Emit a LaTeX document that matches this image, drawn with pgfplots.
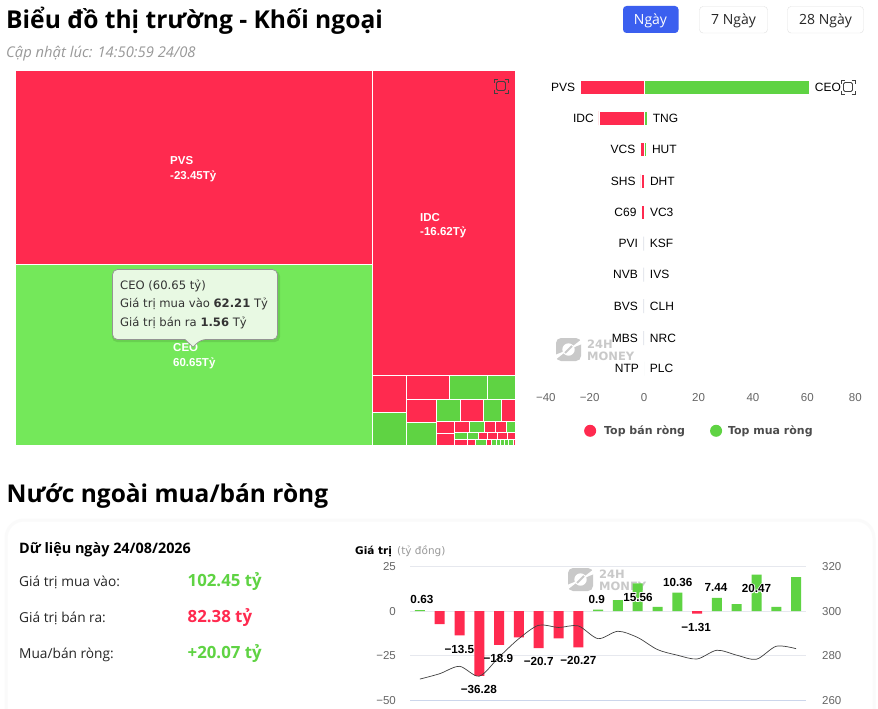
\documentclass[border=0pt]{standalone}
\usepackage{fontspec}
\usepackage{pgfplots}
\usepackage{pgfplotstable}
\pgfplotsset{compat=1.18}
\setmainfont{Liberation Sans}
\newfontfamily\titlef{Open Sans}
\newfontfamily\djv{DejaVu Sans}
\newcommand{\fs}[1]{\fontsize{#1}{#1}\selectfont}
\definecolor{rd}{HTML}{FF2A4F}
\definecolor{gn}{HTML}{5FD343}
\definecolor{gnhi}{HTML}{74E85A}
\definecolor{bgc}{HTML}{E6E8EE}
\definecolor{gridc}{HTML}{E6E8EE}
\definecolor{tick}{HTML}{666666}
\definecolor{wm}{HTML}{C9C9C9}
\definecolor{blu}{HTML}{3B5FEF}
\definecolor{tipc}{HTML}{E8F9E3}
\definecolor{basec}{HTML}{CCD6EB}
\newcommand{\cell}[5]{\addplot[fill=#5,draw=white,line width=0.7pt,forget plot] coordinates {(#1,#2)(#3,#2)(#3,#4)(#1,#4)} -- cycle;}
\newcommand{\hl}[1]{\rlap{\special{pdf:code 1 Tr 1 1 1 RG 1.8 w}#1\special{pdf:code 0 Tr 0 0 0 RG 1 w}}#1}
\newcommand{\watermark}[2]{%
  \begin{scope}[shift={(#1pt,-#2pt)}]
    \fill[wm,rounded corners=5pt] (0pt,0pt) rectangle (25pt,-23pt);
    \fill[white] (12.5pt,-11.5pt) circle (6.2pt);
    \fill[white] (12.5pt,-11.5pt) -- (26pt,-1pt) -- (26pt,-6pt) -- cycle;
    \fill[white] (12.5pt,-11.5pt) -- (-1pt,-17pt) -- (-1pt,-22pt) -- cycle;
    \draw[wm,line width=1.8pt] (9pt,-15pt) -- (16pt,-8pt);
    \node[anchor=base west,inner sep=0pt,text=wm,font=\djv\bfseries\fs{11.5}] at (31pt,-10pt) {24H};
    \node[anchor=base west,inner sep=0pt,text=wm,font=\djv\bfseries\fs{11.5}] at (31pt,-22.5pt) {MONEY};
  \end{scope}}
\newcommand{\focus}[2]{%
  \begin{scope}[shift={(#1pt,-#2pt)},line width=0.9pt,color=black!75]
    \draw (-7pt,-3.5pt) -- (-7pt,-7pt) -- (-3.5pt,-7pt);
    \draw (3.5pt,-7pt) -- (7pt,-7pt) -- (7pt,-3.5pt);
    \draw (-7pt,3.5pt) -- (-7pt,7pt) -- (-3.5pt,7pt);
    \draw (3.5pt,7pt) -- (7pt,7pt) -- (7pt,3.5pt);
    \draw[rounded corners=1.5pt] (-4.5pt,-4.5pt) rectangle (4.5pt,4.5pt);
  \end{scope}}
\pgfplotstableread{
v y n
-23.45 87 PVS
-16.62 118 IDC
-1.3 149.5 VCS
-1.2 181 SHS
-0.9 212.5 C69
}\sellred
\pgfplotstableread{
v y n
-0.4 243.5 PVI
-0.4 274.7 NVB
-0.4 306 BVS
-0.4 338 MBS
-0.02 368.5 NTP
}\sellgray
\pgfplotstableread{
v y n
60.65 87 CEO
1.1 118 TNG
0.8 149.5 HUT
0.05 181 DHT
0.05 212.5 VC3
0.02 243.5 KSF
0.02 274.7 IVS
0.02 306 CLH
0.02 338 NRC
0.02 368.5 PLC
}\buy
\pgfplotstableread{
x v
1 -7.3
2 -13.5
3 -36.28
4 -18.9
5 -14.6
6 -20.7
7 -15.2
8 -20.27
14 -1.31
}\netneg
\pgfplotstableread{
x v
0 0.63
9 0.9
10 6.2
11 15.56
12 2.4
13 10.36
15 7.44
16 3.9
17 20.47
18 2.4
19 19.1
}\netpos
\pgfplotstableread{
x v
0 269.6
1 272
2 275.3
3 270.9
4 279.5
5 287.7
6 293.7
7 292.7
8 293.4
9 287.7
10 291
11 288.2
12 282.8
13 280.3
14 278.6
15 282.5
16 280.3
17 278.5
18 284.3
19 283.2
}\vnline
\pgfplotstableread{
x y n
0.1 6.6 0.63
1.99 -21.2 −13.5
3.96 -26.6 −18.9
2.98 -44 −36.28
6 -28.1 −20.7
8 -27.8 −20.27
8.93 6.6 0.9
13.02 16.1 10.36
13.95 -9 −1.31
14.96 13.3 7.44
}\netlab
\pgfplotstableread{
x y n
11.01 7.9 15.56
17 12.8 20.47
}\netlabhl
\begin{document}
\begin{tikzpicture}
\path[use as bounding box,fill=white] (0pt,0pt) rectangle (878pt,-709pt);

% ---- header
\begin{scope}[every node/.style={inner sep=0pt}]
\node[anchor=base west,font=\titlef\bfseries\fs{24.6}] at (6pt,-29pt) {Biểu đồ thị trường - Khối ngoại};
\node[anchor=base west,font=\titlef\itshape\fs{14.8},text=black!40] at (6pt,-58pt) {Cập nhật lúc: 14:50:59 24/08};
\fill[blu,rounded corners=3.5pt] (623pt,-6pt) rectangle (678.5pt,-33pt);
\node[text=white,font=\titlef\fs{14}] at (650.5pt,-21pt) {Ngày};
\draw[black!12,rounded corners=3.5pt] (699.5pt,-6.5pt) rectangle (767.5pt,-33pt);
\node[text=black!85,font=\titlef\fs{14}] at (733.5pt,-21pt) {7 Ngày};
\draw[black!12,rounded corners=3.5pt] (787.5pt,-6.5pt) rectangle (863.5pt,-33pt);
\node[text=black!85,font=\titlef\fs{14}] at (825.5pt,-21pt) {28 Ngày};
\end{scope}

% ---- treemap
\begin{axis}[at={(16pt,-446pt)},anchor=south west,scale only axis,width=500pt,height=375pt,
  xmin=16,xmax=516,ymin=71,ymax=446,y dir=reverse,hide axis,clip=false,no markers]
\addplot[fill=bgc,draw=none,forget plot] coordinates {(373,375)(516,375)(516,446)(373,446)} -- cycle;
\addplot[fill=bgc!80!black,draw=none,forget plot] coordinates {(16,445)(373,445)(373,446)(16,446)} -- cycle;
\cell{15.6}{70.6}{372.7}{264}{rd}
\cell{15.6}{264}{372.7}{445.5}{gnhi}
\cell{372.7}{70.6}{515.5}{375.5}{rd}
\cell{372.7}{375.5}{406}{412}{rd}
\cell{372.7}{412}{406}{445}{gn}
\cell{406}{375.5}{449.5}{399}{rd}
\cell{449.5}{375.5}{487.5}{399}{gn}
\cell{487.5}{375.5}{515.5}{399}{gn}
\cell{406}{399}{436.5}{422}{rd}
\cell{406}{422}{436.5}{445}{gn}
\cell{436.5}{399}{460.5}{421.5}{gn}
\cell{460.5}{399}{483.5}{421.5}{rd}
\cell{483.5}{399}{501.5}{421.5}{gn}
\cell{501.5}{399}{515.5}{421.5}{rd}
\cell{436.5}{421.5}{454.5}{433}{rd}
\cell{436.5}{433}{454.5}{445}{rd}
\cell{454.5}{421.5}{469.5}{432.5}{rd}
\cell{469.5}{421.5}{484.5}{432.5}{gn}
\cell{484.5}{421.5}{495.5}{432.5}{rd}
\cell{495.5}{421.5}{506.5}{432.5}{rd}
\cell{506.5}{421.5}{515.5}{432.5}{gn}
\cell{454.5}{432.5}{467.5}{439.5}{gn}
\cell{467.5}{432.5}{478.5}{439.5}{gn}
\cell{478.5}{432.5}{487.5}{439.5}{rd}
\cell{487.5}{432.5}{497.5}{439.5}{rd}
\cell{497.5}{432.5}{507.5}{439.5}{rd}
\cell{507.5}{432.5}{515.5}{439.5}{rd}
\cell{454.5}{439.5}{467.5}{445}{rd}
\cell{467.5}{439.5}{475.5}{445}{rd}
\cell{475.5}{439.5}{486.5}{445}{gn}
\cell{486.5}{439.5}{491}{445}{rd}
\cell{491}{439.5}{496}{445}{gn}
\cell{496}{439.5}{500}{445}{gn}
\cell{500}{439.5}{504}{445}{gn}
\cell{504}{439.5}{508}{445}{gn}
\cell{508}{439.5}{513}{445}{gn}
\cell{513}{439.5}{515.5}{445}{rd}
\node[anchor=base west,inner sep=0pt,text=white,font=\bfseries\fs{11.5}] at (axis cs:170,164.5) {PVS};
\node[anchor=base west,inner sep=0pt,text=white,font=\bfseries\fs{11.5}] at (axis cs:170,179.5) {-23.45Tỷ};
\node[anchor=base west,inner sep=0pt,text=white,font=\bfseries\fs{11.5}] at (axis cs:420,221.5) {IDC};
\node[anchor=base west,inner sep=0pt,text=white,font=\bfseries\fs{11.5}] at (axis cs:420,235.5) {-16.62Tỷ};
\node[anchor=base west,inner sep=0pt,text=white,font=\bfseries\fs{11.5}] at (axis cs:173,351.5) {CEO};
\node[anchor=base west,inner sep=0pt,text=white,font=\bfseries\fs{11.5}] at (axis cs:173,366.5) {60.65Tỷ};
\end{axis}
\focus{501}{86}

% ---- tooltip
\fill[black,opacity=0.10,rounded corners=5pt] (112pt,-271pt) rectangle (280pt,-342pt);
\draw[black!42,fill=tipc,line width=0.7pt,rounded corners=5pt]
  (112.5pt,-269.5pt) -- (277.5pt,-269.5pt) -- (277.5pt,-339.5pt) -- (201pt,-339.5pt)
  [sharp corners] -- (193pt,-347pt) -- (185pt,-339.5pt) [rounded corners=5pt] -- (112.5pt,-339.5pt) -- cycle;
\begin{scope}[every node/.style={anchor=base west,inner sep=0pt,text=black!80,font=\djv\fs{11.6}}]
\node at (120pt,-289pt) {CEO (60.65 tỷ)};
\node at (120pt,-307.5pt) {Giá trị mua vào \textbf{62.21} Tỷ};
\node at (120pt,-326pt) {Giá trị bán ra \textbf{1.56} Tỷ};
\end{scope}

% ---- diverging bars
\watermark{556}{338}
\begin{axis}[at={(535.3pt,-388pt)},anchor=south west,scale only axis,width=326.5pt,height=317pt,
  xmin=-40,xmax=80,ymin=71,ymax=388,y dir=reverse,
  xbar,bar shift=0pt,bar width=14pt,clip=false,
  axis line style={draw=none},ytick=\empty,
  xtick={-40,-20,0,20,40,60,80},major tick length=0pt,
  xticklabels={\hspace*{21pt}−40,−20,0,20,40,60,80\hspace*{13pt}},
  xticklabel style={font=\fs{11.5},text=tick,inner sep=0pt,yshift=-5pt},
  legend columns=2,
  legend style={at={(0.149,-0.135)},anchor=west,draw=none,fill=none,font=\djv\bfseries\fs{11},text=black!70,
    inner sep=0pt,/tikz/every even column/.append style={column sep=23pt}},
  legend image code/.code={\fill[#1,draw=none] (6pt,0pt) circle (6pt);},
  nodes near coords=\pgfplotspointmeta,point meta=explicit symbolic]
\addplot[fill=rd,draw=white,line width=0.5pt,
   nodes near coords style={anchor=east,inner sep=0pt,xshift=-5pt,font=\fs{12},text=black}]
   table[x=v,y=y,meta=n] {\sellred};
\addlegendentry{\hspace*{6pt}Top bán ròng}
\addplot[fill=gn,draw=white,line width=0.5pt,
   nodes near coords style={anchor=west,inner sep=0pt,xshift=5.5pt,font=\fs{12},text=black}]
   table[x=v,y=y,meta=n] {\buy};
\addlegendentry{\hspace*{4pt}Top mua ròng}
\addplot[fill=bgc,draw=none,forget plot,
   nodes near coords style={anchor=east,inner sep=0pt,xshift=-5pt,font=\fs{12},text=black}]
   table[x=v,y=y,meta=n] {\sellgray};
\end{axis}
\focus{848}{87}

% ---- section title and card
\node[anchor=base west,inner sep=0pt,font=\titlef\bfseries\fs{24.5}] at (6.5pt,-502pt) {Nước ngoài mua/bán ròng};
\draw[black!2,line width=3pt,rounded corners=18pt] (6pt,-725pt) -- (6pt,-520pt) -- (874pt,-520pt) -- (874pt,-725pt);
\begin{scope}[every node/.style={anchor=base west,inner sep=0pt}]
\node[font=\titlef\bfseries\fs{14.4}] at (19pt,-553pt) {Dữ liệu ngày 24/08/2026};
\node[font=\titlef\fs{13.7},text=black!85] at (19pt,-586pt) {Giá trị mua vào:};
\node[font=\titlef\fs{13.7},text=black!85] at (19pt,-622pt) {Giá trị bán ra:};
\node[font=\titlef\fs{13.7},text=black!85] at (19pt,-658pt) {Mua/bán ròng:};
\node[font=\titlef\bfseries\fs{16.8},text=gn] at (187.5pt,-586.5pt) {102.45 tỷ};
\node[font=\titlef\bfseries\fs{16.8},text=rd] at (187.5pt,-622pt) {82.38 tỷ};
\node[font=\titlef\bfseries\fs{16.8},text=gn] at (187.5pt,-658pt) {+20.07 tỷ};
\node[font=\djv\bfseries\fs{10.5}] at (355pt,-554pt) {Giá trị};
\node[font=\djv\fs{10.5},text=black!40] at (397pt,-554pt) {(tỷ đồng)};
\end{scope}

% ---- bottom chart
\watermark{568}{568}
\begin{axis}[at={(410pt,-700.5pt)},anchor=south west,scale only axis,width=396pt,height=134pt,
  xmin=-0.5,xmax=19.5,ymin=-50,ymax=25,
  ybar,bar shift=0pt,bar width=10pt,
  xtick=\empty,ytick={-50,-25,0,25},yticklabels={−50,−25,0,25},
  ymajorgrids,grid style={gridc,line width=0.8pt},
  axis line style={draw=none},major tick length=0pt,
  yticklabel style={font=\fs{11.5},text=tick,inner sep=0pt,xshift=-14pt}]
\draw[basec,line width=0.8pt] (axis cs:-0.5,-50) -- (axis cs:19.5,-50);
\addplot[fill=rd,draw=none] table[x=x,y=v] {\netneg};
\addplot[fill=gn,draw=none] table[x=x,y=v] {\netpos};
\end{axis}
\begin{axis}[at={(410pt,-700.5pt)},anchor=south west,scale only axis,width=396pt,height=134pt,
  xmin=-0.5,xmax=19.5,ymin=260,ymax=320,axis x line=none,axis y line*=right,
  ytick={260,280,300,320},axis line style={draw=none},major tick length=0pt,
  yticklabels={260,280,300,320},
  yticklabel style={font=\fs{11.5},text=tick,inner sep=0pt,xshift=16pt}]
\addplot[black!75,line width=0.7pt,smooth,tension=0.5,no markers] table[x=x,y=v] {\vnline};
\end{axis}
\begin{axis}[at={(410pt,-700.5pt)},anchor=south west,scale only axis,width=396pt,height=134pt,
  xmin=-0.5,xmax=19.5,ymin=-50,ymax=25,hide axis,clip=false]
\addplot[only marks,mark=none,point meta=explicit symbolic,nodes near coords=\pgfplotspointmeta,
  nodes near coords style={anchor=center,inner sep=0pt,font=\bfseries\fs{11.7},text=black}]
  table[x=x,y=y,meta=n] {\netlab};
\addplot[only marks,mark=none,point meta=explicit symbolic,nodes near coords={\hl{\pgfplotspointmeta}},
  nodes near coords style={anchor=center,inner sep=0pt,font=\bfseries\fs{11.7},text=black}]
  table[x=x,y=y,meta=n] {\netlabhl};
\end{axis}
\end{tikzpicture}
\end{document}
